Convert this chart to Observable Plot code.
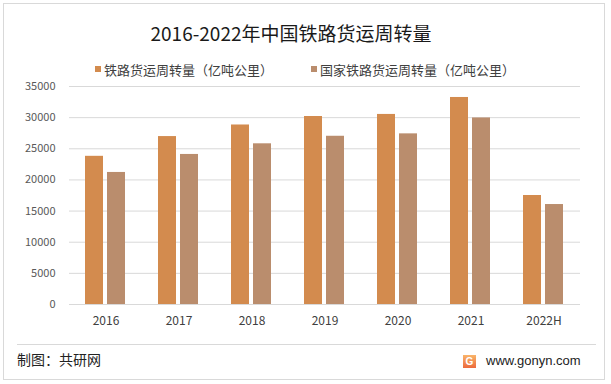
<!DOCTYPE html>
<html><head><meta charset="utf-8">
<script src="https://cdn.jsdelivr.net/npm/d3@7"></script>
<script src="https://cdn.jsdelivr.net/npm/@observablehq/plot@0.6"></script>
<style>
body{margin:0;background:#fff;font-family:"Noto Sans CJK SC","Noto Sans",sans-serif;}
#wrap{position:relative;width:611px;height:384px;overflow:hidden;background:#fff;}
#border{position:absolute;left:3px;top:3px;width:602px;height:377px;border:1px solid #d9d9d9;box-sizing:border-box;}
#title{position:absolute;left:0;width:582px;top:20px;text-align:center;font-size:19px;line-height:26px;color:#1a1a1a;}
#legend{position:absolute;left:95px;top:60px;height:18px;font-size:13px;color:#404040;display:flex;align-items:center;}
.li{display:flex;align-items:center;}
.sw{width:6px;height:6px;margin-right:3px;}
#chart{position:absolute;left:0;top:78px;}
#divider{position:absolute;left:17px;top:344px;width:579px;height:1px;background:#d9d9d9;}
#source{position:absolute;left:17px;top:350px;font-size:14px;line-height:18px;color:#222;}
#site{position:absolute;left:463px;top:352px;font-size:13px;line-height:18px;color:#222;display:flex;align-items:center;font-family:"Liberation Sans",Arial,sans-serif;}
.logo{display:inline-block;width:13px;height:13px;margin-right:10px;background:linear-gradient(180deg,#f9b46a,#ec6a3c);color:#fff;font-size:10px;font-weight:bold;line-height:13px;text-align:center;}
</style></head><body>
<div id="wrap">
  <div id="border"></div>
  <div id="title">2016-2022年中国铁路货运周转量</div>
  <div id="legend"></div>
  <div id="chart"></div>
  <div id="divider"></div>
  <div id="source">制图：共研网</div>
  <div id="site"><span class="logo">G</span>www.gonyn.com</div>
</div>
<script>
const years = ["2016", "2017", "2018", "2019", "2020", "2021", "2022H"];
const seriesNames = ["铁路货运周转量（亿吨公里）", "国家铁路货运周转量（亿吨公里）"];
const railway = [23792, 26962, 28821, 30182, 30515, 33238, 17500];
const national = [21200, 24091, 25800, 27010, 27397, 29950, 16050];
const yTicks = [0, 5000, 10000, 15000, 20000, 25000, 30000, 35000];
const colors = ["#D38B4E", "#BA8D6D"];

const data = years.flatMap((yr, i) => [
  {year: yr, series: seriesNames[0], value: railway[i]},
  {year: yr, series: seriesNames[1], value: national[i]}
]);

const legend = document.getElementById("legend");
seriesNames.forEach((s, i) => {
  const item = document.createElement("div");
  item.className = "li";
  if (i === 0) item.style.width = "216px";
  const sw = document.createElement("span");
  sw.className = "sw";
  sw.style.background = colors[i];
  const t = document.createElement("span");
  t.textContent = s;
  item.appendChild(sw); item.appendChild(t);
  legend.appendChild(item);
});

const plot = Plot.plot({
  width: 611,
  height: 262,
  marginTop: 8,
  marginBottom: 36,
  marginLeft: 69,
  marginRight: 31,
  style: {fontFamily: '"Noto Sans CJK SC","Noto Sans",sans-serif', background: "transparent", overflow: "visible"},
  fx: {domain: years, padding: 0, label: null},
  x: {domain: seriesNames, axis: null, paddingInner: 0.18, paddingOuter: 0.74},
  y: {domain: [0, 35000], label: null},
  color: {domain: seriesNames, range: colors},
  marks: [
    Plot.gridY(yTicks, {stroke: "#d9d9d9", strokeOpacity: 1, strokeWidth: 1}),
    Plot.barY(data, {fx: "year", x: "series", y: "value", fill: "series"}),
    Plot.axisY(yTicks, {tickSize: 0, tickPadding: 14, label: null, fontSize: 11, fill: "#595959", tickFormat: d => String(d)}),
    Plot.axisFx({anchor: "bottom", tickSize: 0, tickPadding: 12, label: null, fontSize: 12, fill: "#404040"})
  ]
});
document.getElementById("chart").appendChild(plot);
</script>
</body></html>
